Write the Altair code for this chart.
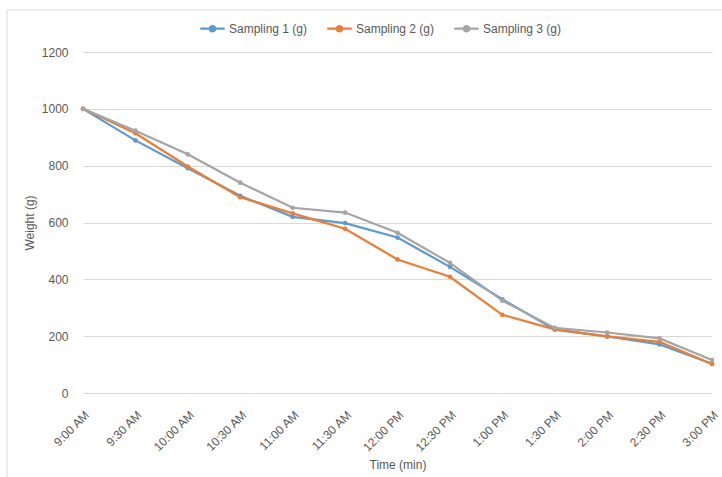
import altair as alt
import pandas as pd

times = ["9:00 AM", "9:30 AM", "10:00 AM", "10:30 AM", "11:00 AM", "11:30 AM",
         "12:00 PM", "12:30 PM", "1:00 PM", "1:30 PM", "2:00 PM", "2:30 PM", "3:00 PM"]
sampling1 = [1000, 889, 791, 694, 620, 598, 547, 444, 330, 223, 199, 171, 103]
sampling2 = [1000, 914, 797, 689, 632, 578, 470, 409, 275, 224, 199, 180, 102]
sampling3 = [1000, 923, 840, 740, 652, 635, 564, 458, 325, 229, 213, 192, 116]
series_names = ["Sampling 1 (g)", "Sampling 2 (g)", "Sampling 3 (g)"]
colors = ["#5B9BD5", "#ED7D31", "#A5A5A5"]

rows = []
for name, vals in zip(series_names, [sampling1, sampling2, sampling3]):
    for i, (t, v) in enumerate(zip(times, vals)):
        rows.append({"Time": t, "Weight": v, "Series": name, "order": i})
df = pd.DataFrame(rows)

FONT = "Liberation Sans"
GREY = "#595959"

legend_symbol = "M-1,0H1M-0.22,0A0.22,0.22 0 1 1 0.22,0A0.22,0.22 0 1 1 -0.22,0Z"

color = alt.Color(
    "Series:N",
    scale=alt.Scale(domain=series_names, range=colors),
    legend=alt.Legend(
        title=None, orient="none", direction="horizontal",
        legendX=116, legendY=-37,
        symbolType=legend_symbol, symbolSize=600, symbolStrokeWidth=2.2,
        labelFont=FONT, labelFontSize=12, labelColor=GREY,
        columnPadding=14, labelOffset=3,
    ),
)

x = alt.X(
    "Time:N", sort=times, title="Time (min)",
    scale=alt.Scale(type="point", padding=0),
    axis=alt.Axis(labelAngle=-45, labelFont=FONT, labelFontSize=12, labelColor=GREY,
                  labelPadding=16, ticks=False, domain=False, grid=False,
                  titleFont=FONT, titleFontSize=12, titleColor=GREY, titleFontWeight="normal",
                  titlePadding=6),
)
y = alt.Y(
    "Weight:Q", title="Weight (g)",
    scale=alt.Scale(domain=[0, 1200], nice=False),
    axis=alt.Axis(values=[0, 200, 400, 600, 800, 1000, 1200], format="d",
                  labelFont=FONT, labelFontSize=12,
                  labelColor=GREY, labelPadding=15, ticks=False, domain=False,
                  gridColor="#D9D9D9", gridWidth=1,
                  titleFont=FONT, titleFontSize=12, titleColor=GREY, titleFontWeight="normal",
                  titlePadding=5),
)

one = pd.DataFrame({"a": [0]})
border_top = alt.Chart(one).mark_rule(stroke="#D9D9D9", strokeWidth=1).encode(
    x=alt.value(-76), x2=alt.value(660), y=alt.value(-42)
)
border_left = alt.Chart(one).mark_rule(stroke="#D9D9D9", strokeWidth=1).encode(
    x=alt.value(-76), y=alt.value(-42), y2=alt.value(440)
)

lines = alt.Chart(df).mark_line(
    strokeWidth=2.2,
    point=alt.OverlayMarkDef(filled=True, size=22),
).encode(x=x, y=y, color=color, order="order:Q")

chart = (
    alt.layer(border_top, border_left, lines)
    .properties(
        width=629, height=341,
        padding={"left": 83, "top": 52, "right": 10, "bottom": 84},
        autosize=alt.AutoSizeParams(type="none"),
        background="white",
    )
    .configure_view(stroke=None, strokeWidth=0)
    .configure_axis(domain=False, ticks=False)
    .configure_axisX(grid=False)
)

chart.save("out.html", embed_options={"renderer": "svg", "actions": False})
